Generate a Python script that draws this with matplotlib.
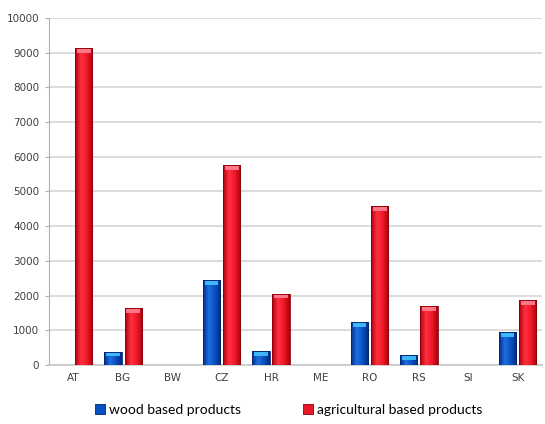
import numpy as np
import matplotlib
matplotlib.use("Agg")
from matplotlib import pyplot as plt
from matplotlib.colors import LinearSegmentedColormap
from matplotlib.patches import Rectangle

countries = ["AT", "BG", "BW", "CZ", "HR", "ME", "RO", "RS", "SI", "SK"]
wood = [0, 380, 0, 2450, 400, 0, 1240, 290, 0, 950]
agri = [9130, 1640, 0, 5760, 2060, 0, 4580, 1700, 0, 1870]
yticks = [0, 1000, 2000, 3000, 4000, 5000, 6000, 7000, 8000, 9000, 10000]

# shaded bar colours (edge -> centre -> edge)
blue_cm = LinearSegmentedColormap.from_list("b", ["#00308c", "#1f6fe0", "#0a4fc0", "#002a80"])
red_cm = LinearSegmentedColormap.from_list("r", ["#b0000f", "#ff3040", "#f01828", "#a8000c"])
grad = np.linspace(0, 1, 64).reshape(1, -1)

fig = plt.figure(figsize=(5.45, 4.24), dpi=100)
ax = fig.add_axes([0.09, 0.139, 0.905, 0.819])

x = np.arange(len(countries))
w = 0.35
gap = 0.03

def shaded_bars(xs, vals, cmap, cap, edge):
    for xc, v in zip(xs, vals):
        if v <= 0:
            continue
        x0, x1 = xc - w / 2, xc + w / 2
        im = ax.imshow(grad, cmap=cmap, aspect="auto", extent=(x0, x1, 0, v),
                       zorder=3, interpolation="bicubic")
        r = Rectangle((x0, 0), w, v, facecolor="none", edgecolor=edge, lw=0.6, zorder=4)
        ax.add_patch(r)
        im.set_clip_path(r)
        # light cap on top of each bar
        ax.add_patch(Rectangle((x0 + w * 0.1, v - 130), w * 0.8, 100,
                               facecolor=cap, edgecolor="none", alpha=0.85, zorder=5))

xb = x - w / 2 - gap
xr = x + w / 2 + gap
shaded_bars(xb, wood, blue_cm, "#48c8ff", "#00256e")
shaded_bars(xr, agri, red_cm, "#ff8898", "#8a0008")

ax.set_xlim(-0.5, len(countries) - 0.5)
ax.set_ylim(0, 10000)
ax.set_yticks(yticks)
ax.set_xticks(x)
ax.set_xticklabels(countries)
ax.tick_params(axis="both", labelsize=7.5, colors="#404040", length=0, pad=6)
ax.tick_params(axis="y", length=3, color="#b0b0b0", pad=4)
ax.yaxis.grid(True, color="#d6d6d6", lw=1.2, zorder=0)
ax.set_axisbelow(True)
for s in ["top", "right"]:
    ax.spines[s].set_visible(False)
ax.spines["left"].set_color("#b0b0b0")
ax.spines["bottom"].set_color("#c8c8c8")
ax.spines["bottom"].set_linewidth(1.2)

handles = [Rectangle((0, 0), 1, 1, facecolor="#0a50c0", edgecolor="#00256e", lw=0.6),
           Rectangle((0, 0), 1, 1, facecolor="#e81828", edgecolor="#8a0008", lw=0.6)]
fig.legend(handles, ["wood based products", "agricultural based products"],
           loc="center", bbox_to_anchor=(0.53, 0.033), ncol=2, frameon=False,
           prop={"family": "Lato", "size": 10}, handlelength=0.7, handleheight=0.7,
           handletextpad=0.3, columnspacing=4.5)

fig.savefig("out.png", dpi=100)
